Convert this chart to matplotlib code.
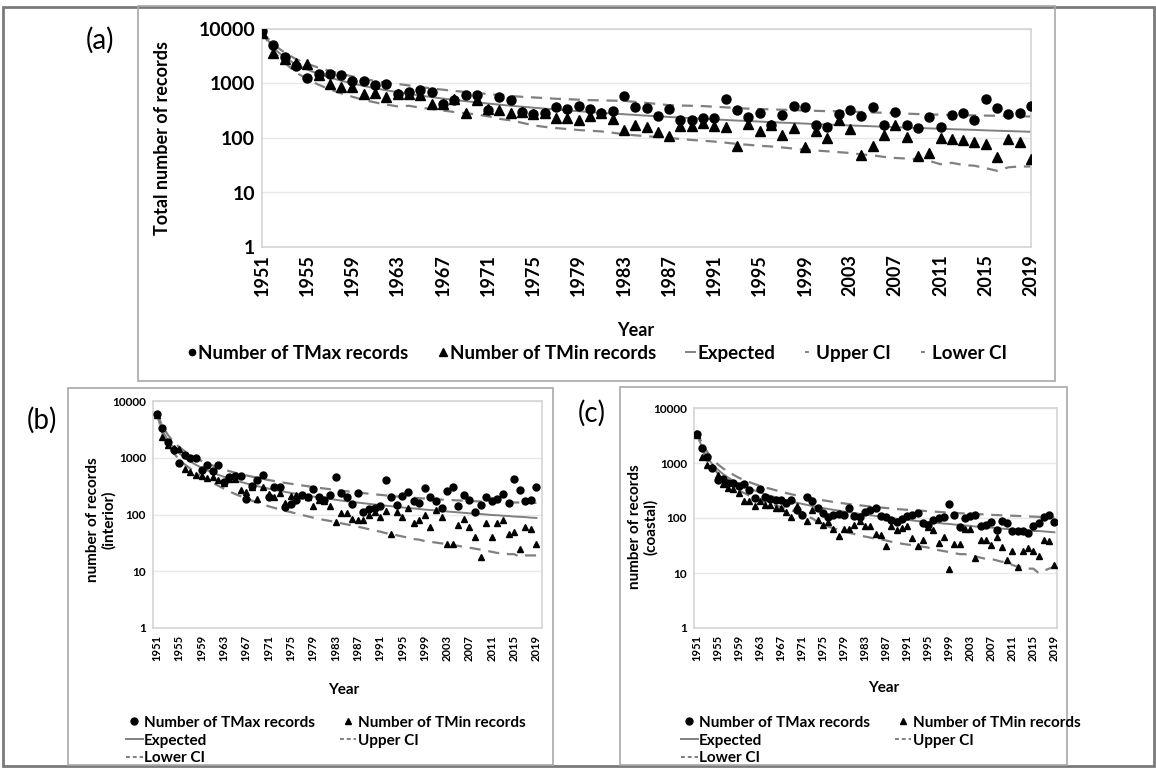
import numpy as np
import matplotlib
matplotlib.use("Agg")
import matplotlib.pyplot as plt
from matplotlib.patches import Rectangle
from matplotlib.lines import Line2D

plt.rcParams["font.family"] = ["Lato", "DejaVu Sans"]

years = list(range(1951, 2020))
tick_years = [1951, 1955, 1959, 1963, 1967, 1971, 1975, 1979, 1983, 1987,
              1991, 1995, 1999, 2003, 2007, 2011, 2015, 2019]

# (a) all stations
a_tmax = [9000, 5150, 3000, 2120, 1280, 1510, 1470, 1430, 1100, 1130,
          920, 960, 650, 700, 760, 700, 425, 505, 625, 625,
          330, 555, 505, 295, 275, 285, 365, 335, 390, 345,
          285, 310, 580, 365, 350, 255, 345, 217, 210, 233,
          233, 510, 325, 240, 283, 175, 265, 390, 375, 170,
          157, 278, 325, 250, 370, 175, 300, 170, 155, 245,
          160, 260, 290, 217, 510, 355, 270, 285, 390]
a_tmin = [8500, 3630, 2800, 2380, 2300, 1450, 980, 860, 860, 650,
          670, 573, 640, 650, 620, 425, 425, 520, 283, 505,
          345, 330, 285, 295, 275, 285, 232, 232, 210, 255,
          285, 225, 138, 170, 160, 127, 107, 163, 163, 190,
          163, 160, 72, 183, 136, 170, 115, 150, 67, 136,
          100, 210, 145, 49, 70, 115, 170, 103, 46, 53,
          100, 97, 90, 83, 78, 44, 97, 85, 42]
a_exp = [9000, 4500, 3000, 2250, 1800, 1500, 1286, 1125, 1000, 900,
         818, 750, 692, 643, 600, 563, 529, 500, 474, 450,
         429, 409, 391, 375, 360, 346, 333, 321, 310, 300,
         290, 281, 273, 265, 257, 250, 243, 237, 231, 225,
         220, 214, 209, 205, 200, 196, 191, 188, 184, 180,
         176, 173, 170, 167, 164, 161, 158, 155, 153, 150,
         148, 145, 143, 141, 138, 136, 134, 132, 130]
a_up = [9000, 5200, 3700, 2800, 2300, 1950, 1700, 1500, 1350, 1220,
        1110, 1030, 980, 920, 860, 810, 770, 730, 700, 670,
        640, 615, 590, 570, 555, 540, 525, 515, 505, 495,
        490, 485, 480, 460, 440, 420, 400, 395, 390, 385,
        375, 365, 355, 345, 340, 335, 330, 325, 320, 315,
        310, 310, 305, 300, 295, 290, 285, 280, 275, 270,
        268, 265, 262, 260, 258, 255, 252, 250, 248]
a_lo = [9000, 3900, 2400, 1600, 1200, 950, 780, 660, 570, 500,
        450, 410, 380, 390, 360, 340, 320, 300, 285, 270,
        250, 225, 210, 190, 170, 160, 152, 146, 140, 136,
        132, 125, 117, 112, 108, 104, 100, 96, 92, 89,
        86, 82, 78, 75, 72, 70, 67, 64, 61, 59,
        57, 55, 53, 50, 48, 45, 43, 42, 41, 38,
        33, 35, 32, 31, 28, 25, 29, 30, 30]

# (b) interior
b_tmax = [5900, 3300, 1900, 1360, 810, 1110, 1010, 1010, 620, 760,
          580, 740, 377, 460, 470, 470, 190, 315, 400, 495,
          205, 310, 305, 137, 154, 180, 220, 205, 277, 200,
          180, 220, 450, 235, 205, 155, 240, 112, 125, 130,
          140, 400, 200, 150, 210, 250, 170, 160, 290, 200,
          170, 130, 260, 300, 140, 220, 180, 110, 150, 200,
          170, 190, 230, 160, 430, 270, 170, 180, 300]
b_tmin = [5600, 2300, 1700, 1500, 1400, 640, 560, 500, 470, 440,
          450, 400, 360, 420, 420, 270, 250, 300, 185, 300,
          230, 200, 240, 160, 210, 220, 220, 200, 140, 180,
          170, 140, 75, 105, 108, 83, 80, 80, 100, 110,
          90, 115, 45, 110, 90, 130, 70, 80, 100, 60,
          120, 90, 30, 30, 65, 85, 60, 40, 18, 70,
          40, 70, 80, 45, 50, 25, 60, 55, 30]
b_exp = [6000, 3000, 2000, 1500, 1200, 1000, 857, 750, 667, 600,
         545, 500, 462, 429, 400, 375, 353, 333, 316, 300,
         286, 273, 261, 250, 240, 231, 222, 214, 207, 200,
         194, 188, 182, 176, 171, 167, 162, 158, 154, 150,
         146, 143, 140, 136, 133, 130, 128, 125, 122, 120,
         118, 115, 113, 111, 109, 107, 105, 103, 102, 100,
         98, 97, 95, 94, 92, 91, 90, 88, 87]
b_up = [6000, 3600, 2500, 1900, 1550, 1300, 1120, 980, 880, 800,
        730, 670, 620, 580, 545, 515, 490, 465, 445, 425,
        405, 390, 375, 360, 348, 336, 325, 315, 305, 295,
        287, 279, 271, 264, 257, 250, 244, 238, 232, 227,
        222, 217, 212, 208, 204, 200, 197, 194, 191, 188,
        185, 183, 181, 179, 177, 175, 173, 171, 170, 168,
        167, 166, 165, 164, 163, 162, 161, 160, 160]
b_lo = [6000, 2700, 1700, 1200, 930, 760, 640, 550, 470, 410,
        360, 320, 285, 255, 230, 210, 192, 176, 162, 150,
        140, 131, 123, 116, 110, 104, 98, 93, 88, 84,
        80, 77, 74, 70, 67, 64, 61, 58, 55, 52,
        50, 47, 45, 43, 41, 39, 37, 36, 34, 33,
        32, 31, 30, 29, 28, 27, 26, 25, 24, 23,
        22, 21, 21, 20, 20, 18, 19, 19, 19]

# (c) coastal
c_tmax = [3370, 1870, 1290, 800, 500, 510, 435, 435, 375, 410,
          325, 230, 330, 245, 225, 215, 215, 190, 215, 140,
          115, 240, 200, 150, 125, 104, 115, 118, 115, 150,
          110, 105, 130, 140, 155, 108, 104, 93, 85, 95,
          108, 115, 125, 81, 76, 93, 100, 104, 180, 115,
          70, 100, 108, 112, 72, 76, 85, 61, 88, 80,
          57, 57, 57, 53, 72, 80, 104, 115, 85]
c_tmin = [3200, 1290, 930, 830, 600, 420, 350, 340, 290, 200,
          200, 163, 200, 170, 175, 150, 155, 130, 104, 165,
          120, 87, 140, 93, 75, 85, 63, 48, 62, 63,
          75, 88, 72, 72, 52, 50, 31, 72, 60, 65,
          72, 43, 31, 39, 68, 60, 35, 46, 12, 33,
          33, 64, 64, 19, 40, 40, 32, 46, 30, 17,
          25, 13, 25, 28, 25, 20, 40, 38, 14]
c_exp = [3800, 1900, 1267, 950, 760, 633, 543, 475, 422, 380,
         345, 317, 292, 271, 253, 238, 224, 211, 200, 190,
         181, 173, 165, 158, 152, 146, 141, 136, 131, 127,
         123, 119, 115, 112, 109, 106, 103, 100, 97, 95,
         93, 90, 88, 86, 84, 83, 81, 79, 78, 76,
         75, 73, 72, 70, 69, 68, 67, 66, 64, 63,
         62, 61, 60, 59, 58, 58, 57, 56, 55]
c_up = [3800, 2300, 1600, 1200, 950, 800, 690, 610, 540, 490,
        450, 415, 385, 360, 340, 320, 300, 285, 270, 258,
        246, 236, 226, 218, 210, 203, 196, 190, 184, 179,
        174, 170, 166, 162, 158, 155, 152, 149, 146, 143,
        141, 139, 137, 135, 133, 131, 129, 127, 125, 124,
        122, 121, 119, 118, 117, 116, 114, 113, 112, 111,
        110, 109, 108, 107, 106, 105, 104, 103, 102]
c_lo = [3800, 1800, 1150, 850, 650, 520, 430, 370, 320, 285,
        255, 230, 210, 195, 180, 168, 158, 148, 138, 128,
        118, 108, 98, 85, 78, 70, 65, 61, 57, 54,
        51, 48, 46, 44, 42, 41, 39, 37, 36, 34,
        33, 32, 31, 30, 29, 27, 26, 25, 24, 23,
        22, 22, 21, 20, 19, 18, 18, 17, 16, 16,
        14, 13, 13, 12, 12, 10, 11, 12, 13]

W, H = 1156, 768
GRAY = "#808080"


def px(x0, y0, x1, y1):
    return [x0 / W, 1 - y1 / H, (x1 - x0) / W, (y1 - y0) / H]


def draw(ax, tmax, tmin, exp, up, lo, ms_c, ms_t, tick_fs, ytick_fs):
    ax.plot(years, exp, color=GRAY, lw=1.4, zorder=2)
    ax.plot(years, up, color=GRAY, lw=1.6, dashes=(5, 3.5), zorder=2)
    ax.plot(years, lo, color=GRAY, lw=1.6, dashes=(5, 3.5), zorder=2)
    ax.plot(years, tmax, "o", color="black", ms=ms_c, zorder=3)
    ax.plot(years, tmin, "^", color="black", ms=ms_t, zorder=3)
    ax.set_yscale("log")
    ax.set_ylim(1, 10000)
    ax.set_yticks([1, 10, 100, 1000, 10000])
    ax.set_yticklabels(["1", "10", "100", "1000", "10000"],
                       fontsize=ytick_fs, fontweight="bold")
    ax.minorticks_off()
    ax.set_xticks(tick_years)
    ax.set_xticklabels([str(y) for y in tick_years], rotation=90,
                       fontsize=tick_fs, fontweight="bold")
    ax.tick_params(length=0, pad=5)
    ax.grid(axis="y", color="#e8e8e8", lw=1)
    ax.set_axisbelow(True)
    for s in ax.spines.values():
        s.set_color("#d4d4d4")
        s.set_linewidth(1.2)


def handles(ms_c, ms_t, dash_len):
    return [Line2D([], [], ls="", marker="o", color="black", ms=ms_c),
            Line2D([], [], ls="", marker="^", color="black", ms=ms_t),
            Line2D([], [], color=GRAY, lw=1.4),
            Line2D([], [], color=GRAY, lw=1.4, dashes=dash_len),
            Line2D([], [], color=GRAY, lw=1.4, dashes=dash_len)]


names = ["Number of TMax records", "Number of TMin records",
         "Expected", "Upper CI", "Lower CI"]

fig = plt.figure(figsize=(W / 100, H / 100), dpi=100)

# frames
fig.patches.append(Rectangle((3 / W, 2 / H), (W - 5) / W, 1 - 9 / H, transform=fig.transFigure,
                             fill=False, ec="#7a7a7a", lw=2))
for bx in [(138, 6, 1055, 381), (68, 388, 553, 765), (620, 387, 1067, 765)]:
    x0, y0, w, h = px(*bx)
    fig.patches.append(Rectangle((x0, y0), w, h, transform=fig.transFigure,
                                 fill=False, ec="#a8a8a8", lw=1.2))

# panel (a)
ax_a = fig.add_axes(px(262, 29, 1031, 247))
draw(ax_a, a_tmax, a_tmin, a_exp, a_up, a_lo, 6.5, 7, 13, 14)
ax_a.set_xlim(1951, 2019)
fig.text(163 / W, 1 - 138 / H, "Total number of records", rotation=90,
         ha="center", va="center", fontsize=13, fontweight="bold")
fig.text(636 / W, 1 - 330 / H, "Year", ha="center", va="center",
         fontsize=13, fontweight="bold")
fig.legend(handles(4.5, 5.5, (2, 100)), names, loc="center",
           bbox_to_anchor=(597 / W, 1 - 353 / H), ncol=5, frameon=False,
           handlelength=0.5, handletextpad=0.1, columnspacing=1.6,
           prop={"size": 13.5, "weight": "bold"})
fig.text(100 / W, 1 - 40 / H, "(a)", ha="center", va="center", fontsize=20)

# panel (b)
ax_b = fig.add_axes(px(153, 401, 542, 628))
draw(ax_b, b_tmax, b_tmin, b_exp, b_up, b_lo, 5, 4.5, 8, 8.5)
ax_b.set_xlim(1950.3, 2020)
fig.text(101 / W, 1 - 520 / H, "number of records\n(interior)", rotation=90,
         ha="center", va="center", fontsize=11, fontweight="bold", linespacing=1.1)
fig.text(344 / W, 1 - 690 / H, "Year", ha="center", va="center",
         fontsize=11, fontweight="bold")
hb = handles(5, 4.5, (2, 1.5))
order = [0, 2, 4, 1, 3]
fig.legend([hb[i] for i in order], [names[i] for i in order], loc="upper left",
           bbox_to_anchor=(112 / W, 1 - 702 / H), ncol=2, frameon=False,
           handlelength=1.1, handletextpad=0.1, columnspacing=1.6,
           labelspacing=0.25, prop={"size": 11, "weight": "bold"})
fig.text(42 / W, 1 - 420 / H, "(b)", ha="center", va="center", fontsize=20)

# panel (c)
ax_c = fig.add_axes(px(694, 408, 1057, 628))
draw(ax_c, c_tmax, c_tmin, c_exp, c_up, c_lo, 5, 4.5, 8, 8.5)
ax_c.set_xlim(1950.5, 2019.5)
fig.text(643 / W, 1 - 527 / H, "number of records\n(coastal)", rotation=90,
         ha="center", va="center", fontsize=11, fontweight="bold", linespacing=1.1)
fig.text(884 / W, 1 - 688 / H, "Year", ha="center", va="center",
         fontsize=11, fontweight="bold")
hc = handles(5, 4.5, (2, 1.5))
fig.legend([hc[i] for i in order], [names[i] for i in order], loc="upper left",
           bbox_to_anchor=(667 / W, 1 - 702 / H), ncol=2, frameon=False,
           handlelength=1.1, handletextpad=0.1, columnspacing=1.6,
           labelspacing=0.25, prop={"size": 11, "weight": "bold"})
fig.text(592 / W, 1 - 413 / H, "(c)", ha="center", va="center", fontsize=20)

fig.savefig("out.png", dpi=100)
